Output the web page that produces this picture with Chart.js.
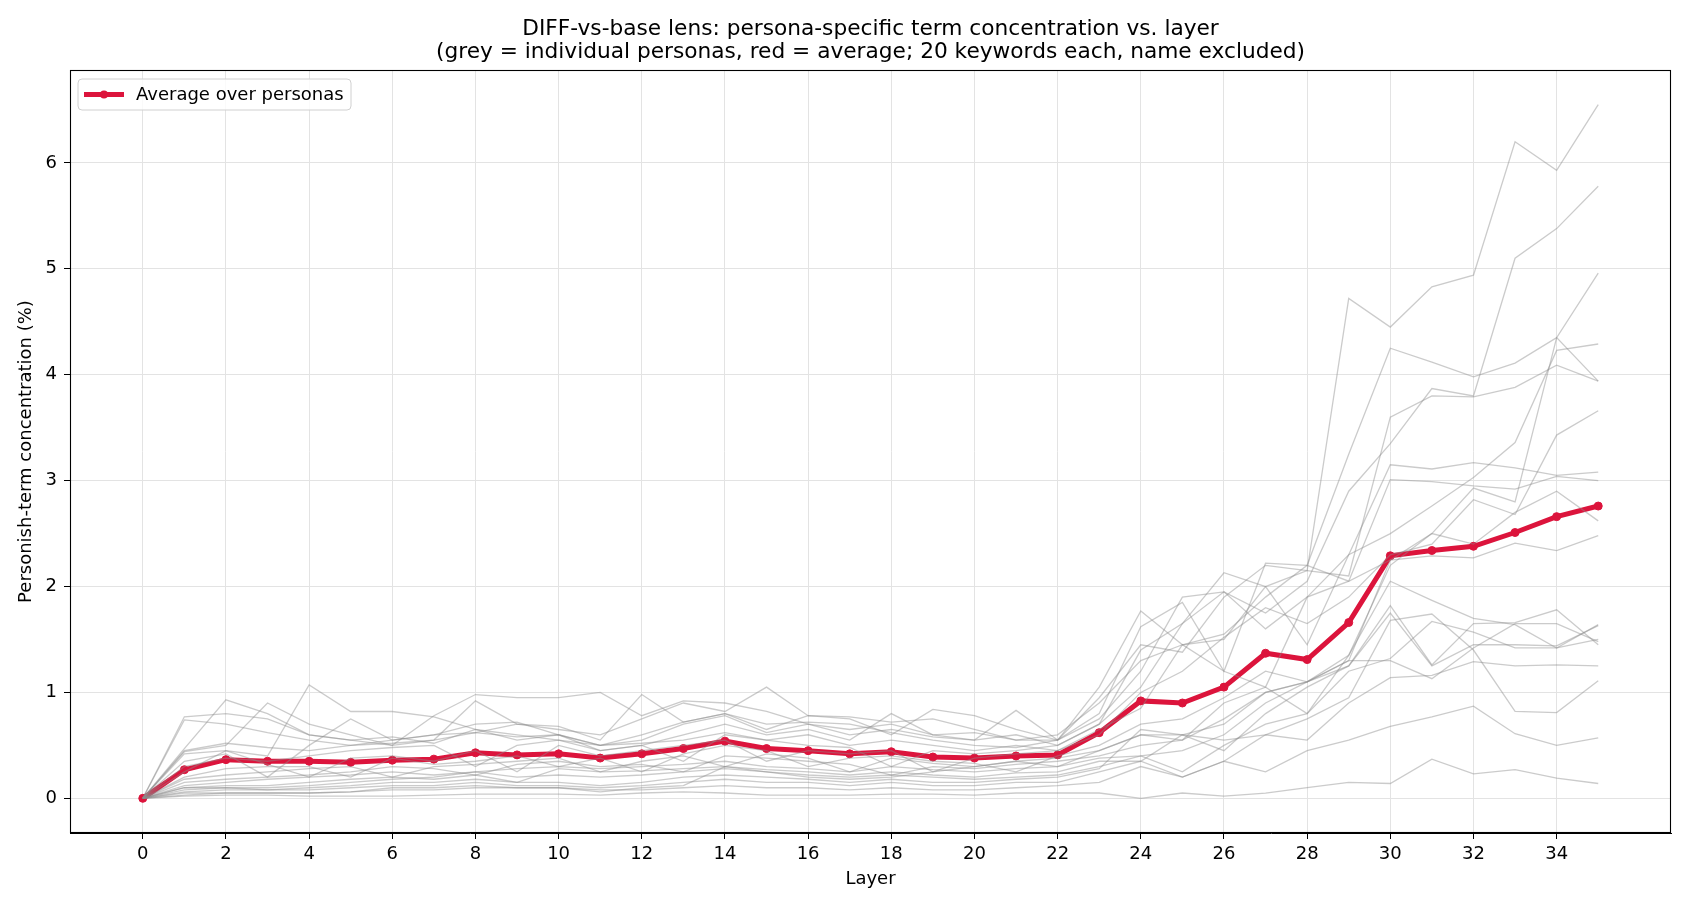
<!DOCTYPE html>
<html><head><meta charset="utf-8">
<script src="https://cdn.jsdelivr.net/npm/chart.js@4.4.0/dist/chart.umd.min.js"></script>
<style>html,body{margin:0;padding:0;background:#fff;}#wrap{width:1690px;height:910px;}</style>
</head><body><div id="wrap"><canvas id="c" width="1690" height="910"></canvas></div>
<script>
const layers = Array.from({length:36},(_,i)=>i);
const xTicks = [0,2,4,6,8,10,12,14,16,18,20,22,24,26,28,30,32,34];
const yTicks = [0,1,2,3,4,5,6];
const titleLines = ["DIFF-vs-base lens: persona-specific term concentration vs. layer","(grey = individual personas, red = average; 20 keywords each, name excluded)"];
const xLabel = "Layer";
const yLabel = "Personish-term concentration (%)";
const avgLabel = "Average over personas";

const average = [0,0.27,0.365,0.35,0.35,0.34,0.36,0.37,0.43,0.41,0.42,0.38,0.42,0.47,0.54,0.47,0.45,0.42,0.44,0.39,0.38,0.40,0.41,0.62,0.92,0.90,1.05,1.37,1.31,1.66,2.29,2.34,2.38,2.51,2.66,2.76];

const p01 = [0,0.45,0.52,0.48,0.45,0.5,0.55,0.6,0.62,0.58,0.6,0.5,0.55,0.7,0.78,0.62,0.7,0.65,0.7,0.6,0.62,0.55,0.6,0.9,1.3,1.45,1.5,2.0,2.15,4.72,4.45,4.83,4.94,6.20,5.93,6.55];
const p02 = [0,0.77,0.8,0.75,0.6,0.55,0.58,0.52,0.65,0.6,0.55,0.5,0.6,0.72,0.8,0.7,0.72,0.7,0.62,0.55,0.5,0.48,0.55,0.75,1.2,1.9,1.95,1.75,2.05,2.9,3.35,3.87,3.80,5.10,5.38,5.78];
const p03 = [0,0.47,0.93,0.8,0.6,0.55,0.5,0.55,0.62,0.7,0.68,0.55,0.98,0.72,0.8,0.65,0.78,0.77,0.72,0.75,0.65,0.55,0.55,1.05,1.77,1.45,1.55,1.9,2.2,3.25,4.25,4.12,3.98,4.11,4.35,3.94];
const p04 = [0,0.74,0.7,0.62,0.55,0.5,0.52,0.55,0.92,0.7,0.65,0.6,0.75,0.9,0.82,1.05,0.78,0.75,0.6,0.84,0.78,0.65,0.55,0.95,1.45,1.38,1.9,2.2,2.15,2.1,3.6,3.8,3.79,3.88,4.09,3.94];
const p05 = [0,0.44,0.5,0.9,0.7,0.6,0.5,0.78,0.98,0.95,0.95,1.0,0.78,0.92,0.9,0.82,0.7,0.6,0.65,0.58,0.55,0.83,0.55,0.8,1.62,1.85,1.2,2.22,2.2,2.05,2.25,2.5,2.93,2.80,4.35,4.96];
const p06 = [0,0.42,0.45,0.4,1.07,0.82,0.82,0.77,0.65,0.55,0.6,0.45,0.5,0.6,0.7,0.6,0.65,0.55,0.8,0.6,0.55,0.6,0.5,0.7,1.05,1.65,1.95,1.6,1.9,2.3,2.5,2.76,3.03,3.36,4.23,4.29];
const p07 = [0,0.35,0.42,0.2,0.5,0.75,0.55,0.6,0.7,0.72,0.6,0.5,0.52,0.55,0.62,0.55,0.6,0.5,0.55,0.5,0.45,0.5,0.45,0.6,1.0,1.2,1.52,1.8,1.65,1.9,2.3,2.4,2.82,2.68,3.43,3.66];
const p08 = [0,0.3,0.38,0.35,0.4,0.45,0.48,0.5,0.3,0.5,0.55,0.45,0.5,0.35,0.6,0.55,0.5,0.48,0.3,0.45,0.42,0.45,0.5,0.7,1.4,1.65,2.13,2.0,1.45,2.3,3.15,3.11,3.17,3.12,3.05,3.08];
const p09 = [0,0.25,0.45,0.32,0.2,0.38,0.4,0.35,0.45,0.25,0.5,0.4,0.45,0.5,0.55,0.35,0.45,0.42,0.45,0.25,0.38,0.42,0.45,0.65,0.85,1.45,1.2,1.05,1.9,2.05,3.01,2.99,2.95,2.92,3.04,3.00];
const p10 = [0,0.2,0.28,0.3,0.3,0.2,0.38,0.32,0.35,0.4,0.3,0.38,0.25,0.42,0.5,0.45,0.3,0.38,0.4,0.35,0.33,0.25,0.4,0.5,0.7,0.75,0.95,1.2,1.1,1.35,2.2,2.5,2.4,2.7,2.90,2.62];
const p11 = [0,0.18,0.22,0.25,0.28,0.3,0.2,0.3,0.32,0.35,0.38,0.25,0.35,0.4,0.3,0.42,0.38,0.25,0.38,0.33,0.3,0.35,0.38,0.45,0.6,0.6,0.7,1.0,1.1,1.3,2.25,2.29,2.27,2.41,2.34,2.48];
const p12 = [0,0.15,0.18,0.2,0.22,0.25,0.3,0.28,0.22,0.32,0.35,0.3,0.32,0.25,0.4,0.38,0.35,0.32,0.22,0.3,0.28,0.32,0.35,0.4,0.5,0.55,0.9,1.05,0.8,1.35,2.05,1.87,1.70,1.64,1.42,1.64];
const p13 = [0,0.12,0.15,0.18,0.2,0.22,0.25,0.22,0.25,0.28,0.3,0.28,0.3,0.32,0.35,0.3,0.28,0.25,0.3,0.27,0.25,0.28,0.3,0.38,0.4,0.45,0.6,0.9,1.1,1.25,1.82,1.26,1.65,1.66,1.78,1.45];
const p14 = [0,0.1,0.12,0.12,0.15,0.18,0.2,0.18,0.22,0.15,0.28,0.25,0.26,0.28,0.3,0.27,0.25,0.22,0.25,0.22,0.2,0.24,0.25,0.35,0.35,0.6,0.55,0.6,0.75,0.95,1.68,1.74,1.40,0.82,0.81,1.11];
const p15 = [0,0.1,0.1,0.1,0.12,0.15,0.18,0.2,0.25,0.2,0.22,0.2,0.22,0.25,0.28,0.25,0.22,0.2,0.22,0.2,0.18,0.2,0.22,0.3,0.4,0.25,0.5,0.7,0.8,1.2,1.32,1.67,1.57,1.42,1.42,1.50];
const p16 = [0,0.08,0.1,0.08,0.1,0.12,0.15,0.15,0.18,0.15,0.15,0.12,0.15,0.2,0.22,0.2,0.18,0.15,0.18,0.15,0.15,0.18,0.2,0.28,0.65,0.6,0.45,0.8,1.05,1.25,1.75,1.25,1.45,1.45,1.44,1.63];
const p17 = [0,0.06,0.08,0.08,0.08,0.1,0.12,0.12,0.15,0.12,0.12,0.1,0.12,0.15,0.18,0.15,0.15,0.12,0.15,0.12,0.12,0.15,0.15,0.25,0.35,0.2,0.35,0.6,0.55,0.9,1.14,1.16,1.29,1.25,1.26,1.25];
const p18 = [0,0.05,0.05,0.05,0.05,0.06,0.08,0.08,0.1,0.1,0.1,0.08,0.08,0.1,0.12,0.1,0.1,0.08,0.1,0.08,0.08,0.1,0.12,0.15,0.3,0.2,0.35,0.25,0.45,0.55,0.68,0.77,0.87,0.61,0.50,0.57];
const p19 = [0,0.02,0.03,0.03,0.02,0.02,0.02,0.03,0.04,0.04,0.04,0.03,0.05,0.06,0.05,0.03,0.03,0.03,0.04,0.04,0.03,0.05,0.05,0.05,0.0,0.05,0.02,0.05,0.1,0.15,0.14,0.37,0.23,0.27,0.19,0.14];
const p20 = [0,0.03,0.05,0.05,0.05,0.06,0.1,0.1,0.12,0.1,0.1,0.06,0.1,0.12,0.3,0.25,0.2,0.18,0.2,0.25,0.3,0.35,0.3,0.45,0.6,0.55,0.75,1.0,1.1,1.3,1.3,1.13,1.42,1.65,1.65,1.48];
const personas = [p01,p02,p03,p04,p05,p06,p07,p08,p09,p10,p11,p12,p13,p14,p15,p16,p17,p18,p19,p20];

const FONT = "'DejaVu Sans', sans-serif";
const RED = '#DC143C';

const datasets = personas.map(arr => ({
  data: arr, borderColor: 'rgba(140,140,140,0.45)', borderWidth: 1.3,
  pointRadius: 0, pointHoverRadius: 0, tension: 0, fill: false
}));
datasets.push({
  label: avgLabel, data: average, borderColor: RED, backgroundColor: RED,
  borderWidth: 5, pointRadius: 4, pointBackgroundColor: RED, pointBorderColor: RED,
  pointBorderWidth: 1, tension: 0, fill: false
});

const decor = {
  id: 'decor',
  afterDraw(chart) {
    const ctx = chart.ctx, a = chart.chartArea;
    ctx.save();
    ctx.strokeStyle = '#000'; ctx.lineWidth = 1.1;
    ctx.strokeRect(a.left + 0.5, a.top + 0.5, a.right - a.left - 1, a.bottom - a.top - 1);
    ctx.fillStyle = '#000'; ctx.textAlign = 'center'; ctx.textBaseline = 'middle';
    ctx.font = "21.7px " + FONT;
    const cx = (a.left + a.right) / 2;
    ctx.fillText(titleLines[0], cx, 29);
    ctx.fillText(titleLines[1], cx, 52);
    const bx = 78, by = 79, bw = 273, bh = 31, r = 4;
    ctx.beginPath();
    ctx.moveTo(bx + r, by); ctx.lineTo(bx + bw - r, by); ctx.quadraticCurveTo(bx + bw, by, bx + bw, by + r);
    ctx.lineTo(bx + bw, by + bh - r); ctx.quadraticCurveTo(bx + bw, by + bh, bx + bw - r, by + bh);
    ctx.lineTo(bx + r, by + bh); ctx.quadraticCurveTo(bx, by + bh, bx, by + bh - r);
    ctx.lineTo(bx, by + r); ctx.quadraticCurveTo(bx, by, bx + r, by); ctx.closePath();
    ctx.fillStyle = 'rgba(255,255,255,0.8)'; ctx.fill();
    ctx.strokeStyle = '#d0d0d0'; ctx.lineWidth = 1; ctx.stroke();
    const ly = by + bh / 2;
    ctx.strokeStyle = RED; ctx.lineWidth = 5; ctx.lineCap = 'butt';
    ctx.beginPath(); ctx.moveTo(84, ly); ctx.lineTo(124, ly); ctx.stroke();
    ctx.fillStyle = RED; ctx.beginPath(); ctx.arc(104, ly, 4, 0, Math.PI * 2); ctx.fill();
    ctx.fillStyle = '#000'; ctx.textAlign = 'left'; ctx.font = "18px " + FONT;
    ctx.fillText(avgLabel, 136, ly + 1);
    ctx.restore();
  }
};

new Chart(document.getElementById('c'), {
  type: 'line',
  data: { labels: layers, datasets },
  options: {
    responsive: false, animation: false, devicePixelRatio: 1,
    layout: { padding: { top: 70, right: 19, bottom: 0, left: 0 } },
    plugins: { legend: { display: false }, title: { display: false }, tooltip: { enabled: false } },
    scales: {
      x: {
        type: 'linear', min: -1.75, max: 36.75,
        afterBuildTicks(s) { s.ticks = xTicks.map(v => ({ value: v })); },
        afterFit(s) { s.height = 77; },
        ticks: { color: '#000', font: { family: FONT, size: 18 }, padding: 5, maxRotation: 0, autoSkip: false },
        grid: { color: '#e3e3e3', lineWidth: 1, tickColor: '#000', tickLength: 6, drawTicks: true },
        border: { display: true, color: '#000', width: 1 },
        title: { display: true, text: xLabel, color: '#000', font: { family: FONT, size: 18 }, padding: { top: 0, bottom: 20 } }
      },
      y: {
        type: 'linear', min: -0.3275, max: 6.8775,
        afterBuildTicks(s) { s.ticks = yTicks.map(v => ({ value: v })); },
        afterFit(s) { s.width = 70; },
        ticks: { color: '#000', font: { family: FONT, size: 18 }, padding: 7 },
        grid: { color: '#e3e3e3', lineWidth: 1, tickColor: '#000', tickLength: 6, drawTicks: true },
        border: { display: true, color: '#000', width: 1 },
        title: { display: true, text: yLabel, color: '#000', font: { family: FONT, size: 18 }, padding: { top: 16, bottom: 0 } }
      }
    }
  },
  plugins: [decor]
});
</script></body></html>
